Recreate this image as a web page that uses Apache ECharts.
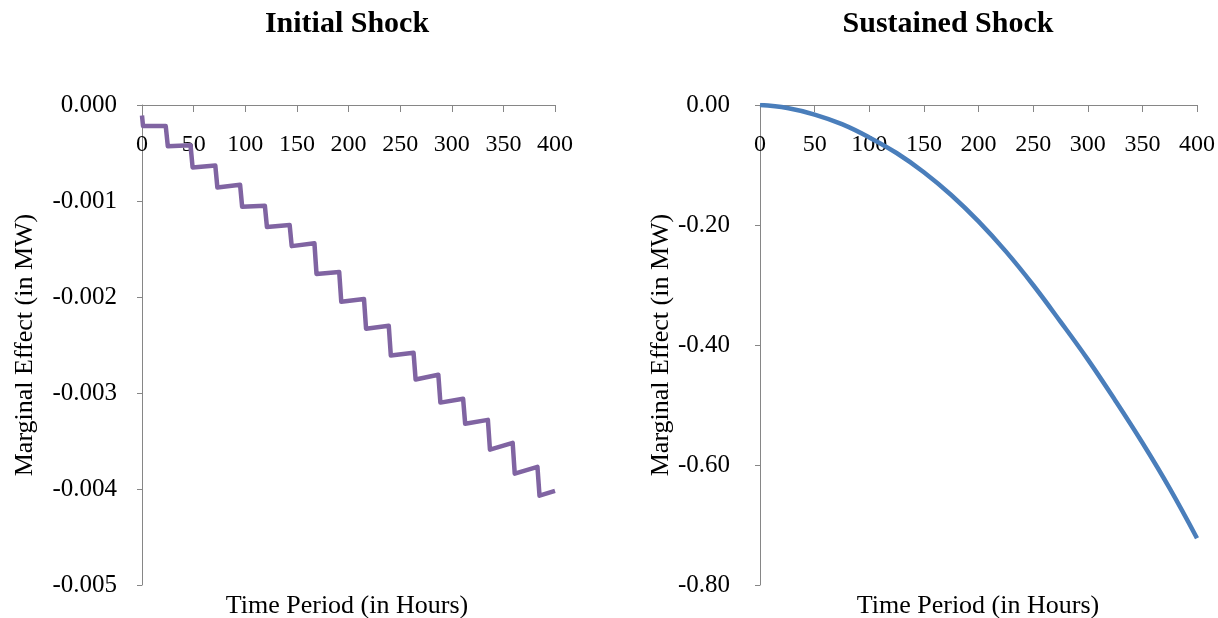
<!DOCTYPE html>
<html>
<head>
<meta charset="utf-8">
<title>Initial vs Sustained Shock</title>
<script src="https://cdn.jsdelivr.net/npm/echarts@6/dist/echarts.min.js"></script>
<style>
html, body { margin: 0; padding: 0; background: #fff; }
#chart { width: 1218px; height: 618px; }
</style>
</head>
<body>
<div id="chart"></div>
<script>
// Initial shock: daily staircase (hour, marginal effect)
var initialHours = [0, 1, 23, 25, 47, 49, 71, 73, 95, 97, 119, 121, 143, 145, 167, 169,
    191, 193, 215, 217, 239, 241, 263, 265, 287, 289, 311, 313, 335, 337, 359, 361, 383, 385, 400];
var initialValues = [-0.00011, -0.00022, -0.00022, -0.00043, -0.00042, -0.00065, -0.00063, -0.00086,
    -0.00083, -0.00106, -0.00105, -0.00127, -0.00125, -0.00147, -0.00144, -0.00176,
    -0.00174, -0.00205, -0.00202, -0.00233, -0.00230, -0.00261, -0.00258, -0.00286,
    -0.00281, -0.00310, -0.00306, -0.00332, -0.00328, -0.00359, -0.00352, -0.00384,
    -0.00377, -0.00407, -0.00402];

// Sustained shock: smooth curve
var sustainedHours = [0, 25, 50, 75, 100, 125, 150, 175, 200, 225, 250, 275, 300, 325, 350, 375, 400];
var sustainedValues = [0, -0.005, -0.016, -0.032, -0.054, -0.080, -0.112, -0.150, -0.194,
    -0.244, -0.300, -0.361, -0.424, -0.492, -0.563, -0.639, -0.722];

var xTicks = [0, 50, 100, 150, 200, 250, 300, 350, 400];

function pairs(xs, ys) {
    return xs.map(function (x, i) { return [x, ys[i]]; });
}

var font = '"Liberation Serif", "Times New Roman", serif';
var axisGray = '#868686';

function xAxisCfg(idx) {
    return {
        gridIndex: idx,
        type: 'value',
        position: 'top',
        min: xTicks[0],
        max: xTicks[xTicks.length - 1],
        interval: 50,
        axisLine: { show: true, onZero: false, lineStyle: { color: axisGray, width: 1 } },
        axisTick: { show: true, inside: true, length: 7, lineStyle: { color: axisGray } },
        axisLabel: { inside: true, margin: 28, color: '#000', fontFamily: font, fontSize: 24 },
        splitLine: { show: false }
    };
}

function yAxisCfg(idx, min, interval, digits, gap, labelMargin) {
    return {
        gridIndex: idx,
        type: 'value',
        min: min,
        max: 0,
        interval: interval,
        name: 'Marginal Effect (in MW)',
        nameLocation: 'middle',
        nameGap: gap,
        nameTextStyle: { color: '#000', fontFamily: font, fontSize: 26 },
        axisLine: { show: true, onZero: false, lineStyle: { color: axisGray, width: 1 } },
        axisTick: { show: true, length: 5, lineStyle: { color: axisGray } },
        axisLabel: {
            margin: labelMargin, color: '#000', fontFamily: font, fontSize: 25,
            formatter: function (v) { return v.toFixed(digits); }
        },
        splitLine: { show: false }
    };
}

var titleStyle = { fontFamily: font, fontSize: 30, fontWeight: 'bold', color: '#000' };
var axisTitleStyle = { fontFamily: font, fontSize: 26, fontWeight: 'normal', color: '#000' };

var chart = echarts.init(document.getElementById('chart'));
chart.setOption({
    backgroundColor: '#fff',
    animation: false,
    title: [
        { text: 'Initial Shock', left: 342, top: 4, textAlign: 'center', textStyle: titleStyle },
        { text: 'Sustained Shock', left: 943, top: 4, textAlign: 'center', textStyle: titleStyle },
        { text: 'Time Period (in Hours)', left: 342, top: 588, textAlign: 'center', textStyle: axisTitleStyle },
        { text: 'Time Period (in Hours)', left: 973, top: 588, textAlign: 'center', textStyle: axisTitleStyle }
    ],
    grid: [
        { left: 142, top: 105, width: 413, height: 480 },
        { left: 760, top: 105, width: 437, height: 480 }
    ],
    xAxis: [xAxisCfg(0), xAxisCfg(1)],
    yAxis: [
        yAxisCfg(0, -0.005, 0.001, 3, 104, 25),
        yAxisCfg(1, -0.8, 0.2, 2, 82, 30)
    ],
    series: [
        {
            type: 'line', xAxisIndex: 0, yAxisIndex: 0,
            data: pairs(initialHours, initialValues),
            showSymbol: false,
            lineStyle: { color: '#8064A2', width: 4.5, join: 'round' }
        },
        {
            type: 'line', xAxisIndex: 1, yAxisIndex: 1,
            data: pairs(sustainedHours, sustainedValues),
            smooth: 0.4,
            showSymbol: false,
            lineStyle: { color: '#4A7EBB', width: 4.5 }
        }
    ]
});
</script>
</body>
</html>
